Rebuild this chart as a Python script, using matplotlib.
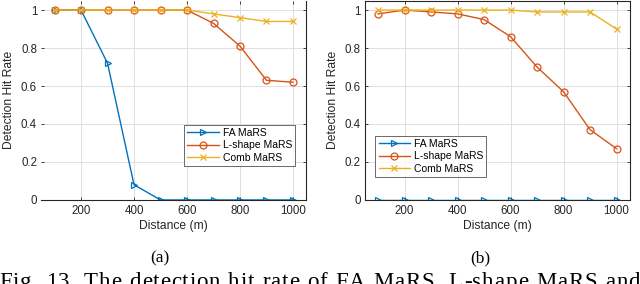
import matplotlib.pyplot as plt
import numpy as np

distance = [100, 200, 300, 400, 500, 600, 700, 800, 900, 1000]

fa_a = [1.0, 1.0, 0.72, 0.08, 0.0, 0.0, 0.0, 0.0, 0.0, 0.0]
lshape_a = [1.0, 1.0, 1.0, 1.0, 1.0, 1.0, 0.93, 0.81, 0.63, 0.62]
comb_a = [1.0, 1.0, 1.0, 1.0, 1.0, 1.0, 0.98, 0.96, 0.94, 0.94]

fa_b = [0.0, 0.0, 0.0, 0.0, 0.0, 0.0, 0.0, 0.0, 0.0, 0.0]
lshape_b = [0.98, 1.0, 0.99, 0.98, 0.95, 0.86, 0.70, 0.57, 0.37, 0.27]
comb_b = [1.0, 1.0, 1.0, 1.0, 1.0, 1.0, 0.99, 0.99, 0.99, 0.90]

series_names = ["FA MaRS", "L-shape MaRS", "Comb MaRS"]
panel_labels = ["(a)", "(b)"]
caption = "Fig. 13. The detection hit rate of FA MaRS, L-shape MaRS and"

BLUE = "#0072BD"
ORANGE = "#D95319"
YELLOW = "#EDB120"

plt.rcParams["font.family"] = ["Liberation Sans", "DejaVu Sans"]

fig = plt.figure(figsize=(6.4, 2.84), dpi=100)
ax_a = fig.add_axes([0.0645, 0.296, 0.414, 0.702])
ax_b = fig.add_axes([0.570, 0.296, 0.414, 0.702])


def draw_panel(ax, fa, lshape, comb, legend_pos):
    ax.plot(distance, fa, marker=">", color=BLUE, mfc="none", ms=5, lw=1.0, mew=0.9,
            label=series_names[0])
    ax.plot(distance, lshape, marker="o", color=ORANGE, mfc="none", ms=5, lw=1.0, mew=0.9,
            label=series_names[1])
    ax.plot(distance, comb, marker="x", color=YELLOW, ms=4, lw=1.0, mew=0.9,
            label=series_names[2])
    ax.set_xlim(50, 1050)
    ax.set_ylim(0, 1.05)
    ax.set_xticks([200, 400, 600, 800, 1000])
    ax.set_yticks([0, 0.2, 0.4, 0.6, 0.8, 1])
    ax.set_yticklabels(["0", "0.2", "0.4", "0.6", "0.8", "1"])
    ax.grid(True, color="#dedede", lw=0.7)
    ax.set_axisbelow(True)
    ax.tick_params(direction="in", length=2.5, width=0.6, labelsize=8.3, colors="#262626",
                   top=True, right=True)
    ax.tick_params(axis="x", pad=4)
    ax.tick_params(axis="y", pad=3)
    for s in ax.spines.values():
        s.set_color("#262626")
        s.set_linewidth(0.8)
    ax.set_xlabel("Distance (m)", fontsize=8.7, color="#262626", labelpad=2)
    ax.set_ylabel("Detection Hit Rate", fontsize=8.7, color="#262626", labelpad=4)
    leg = ax.legend(loc="lower left", bbox_to_anchor=legend_pos, fontsize=7.5, frameon=True,
                    fancybox=False, edgecolor="#262626", handlelength=3.0, handletextpad=0.4,
                    borderpad=0.3, labelspacing=0.25, borderaxespad=0)
    leg.get_frame().set_linewidth(0.6)


draw_panel(ax_a, fa_a, lshape_a, comb_a, (0.54, 0.17))
draw_panel(ax_b, fa_b, lshape_b, comb_b, (0.04, 0.115))
ax_a.spines["left"].set_visible(False)
ax_a.spines["top"].set_visible(False)

fig.text(0.25, 0.09, panel_labels[0], family="Liberation Serif", fontsize=12.5,
         ha="center", va="center")
fig.text(0.75, 0.09, panel_labels[1], family="Liberation Serif", fontsize=12.5,
         ha="center", va="center")

# caption: spread the letters out to the full width, like the scanned page
renderer = fig.canvas.get_renderer()
cap_size = 16.5
widths = []
for ch in caption:
    t = fig.text(0, 0, ch if ch != " " else "a", family="Liberation Serif", fontsize=cap_size)
    w = t.get_window_extent(renderer).width
    if ch == " ":
        w *= 0.6
    widths.append(w)
    t.remove()
start_px, end_px = -1.0, 640.0
extra = (end_px - start_px - sum(widths)) / (len(caption) - 1)
x_px = start_px
baseline = 1 - 288 / 284
for ch, w in zip(caption, widths):
    if ch != " ":
        fig.text(x_px / 640, baseline, ch, family="Liberation Serif", fontsize=cap_size,
                 ha="left", va="baseline")
    x_px += w + extra

fig.savefig("out.png", dpi=100)
